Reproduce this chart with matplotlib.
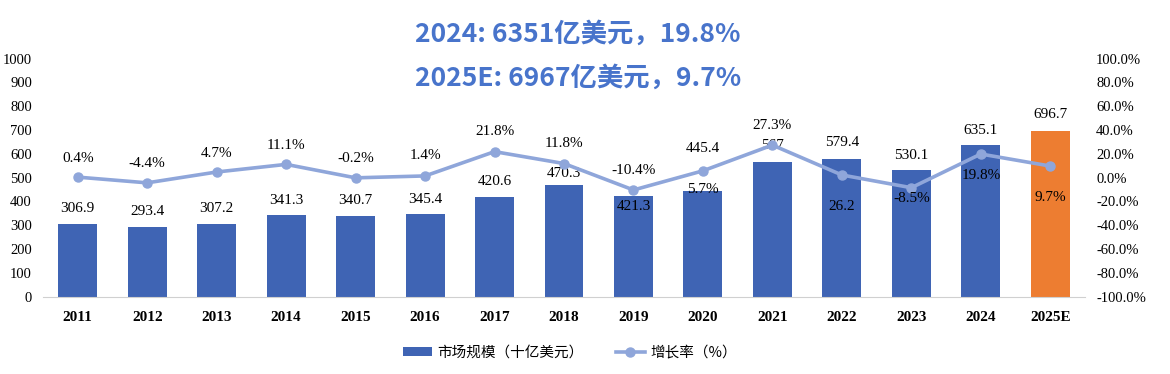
import matplotlib.pyplot as plt
import numpy as np

plt.rcParams["font.family"] = ["Liberation Serif", "DejaVu Serif"]

years = ["2011", "2012", "2013", "2014", "2015", "2016", "2017", "2018",
         "2019", "2020", "2021", "2022", "2023", "2024", "2025E"]
market_size = [306.9, 293.4, 307.2, 341.3, 340.7, 345.4, 420.6, 470.3,
               421.3, 445.4, 567, 579.4, 530.1, 635.1, 696.7]
bar_labels = ["306.9", "293.4", "307.2", "341.3", "340.7", "345.4", "420.6", "470.3",
              "421.3", "445.4", "567", "579.4", "530.1", "635.1", "696.7"]
growth = [0.4, -4.4, 4.7, 11.1, -0.2, 1.4, 21.8, 11.8,
          -10.4, 5.7, 27.3, 2.2, -8.5, 19.8, 9.7]
growth_labels = ["0.4%", "-4.4%", "4.7%", "11.1%", "-0.2%", "1.4%", "21.8%", "11.8%",
                 "-10.4%", "5.7%", "27.3%", "26.2", "-8.5%", "19.8%", "9.7%"]

# label offsets in pixels (copied from how the original labels sit)
bar_label_dy = [15, 15, 15, 15, 15, 15, 15, 11, -10, 42, 16, 16, 15, 15, 16]
growth_label_dy = [19, 19, 19, 19, 19, 20, 20, 20, 19, -19, 20, -32, -11, -21, -31]

BLUE = "#3F64B4"
ORANGE = "#ED7D31"
LINE = "#8FA6DA"
TITLE = "#4874CB"
CJK = ["Noto Sans CJK SC", "DejaVu Sans"]

fig = plt.figure(figsize=(11.7, 3.74), dpi=100)
ax = fig.add_axes([43 / 1170, 1 - 296.7 / 374, (1085 - 43) / 1170, (296.7 - 58.5) / 374])

x = np.arange(len(years))
colors = [BLUE] * (len(years) - 1) + [ORANGE]
bars = ax.bar(x, market_size, width=0.56, color=colors, zorder=2)

ax.set_xlim(-0.5, len(years) - 0.5)
ax.set_ylim(0, 1000)
ax.set_yticks(range(0, 1001, 100))
ax.set_xticks(x)
ax.set_xticklabels(years, fontweight="bold", fontsize=11)
ax.tick_params(axis="x", length=0, pad=10)
ax.tick_params(axis="y", length=0, labelsize=10.5, pad=8)
for side in ["top", "right", "left"]:
    ax.spines[side].set_visible(False)
ax.spines["bottom"].set_color("#D0D0D0")

for xi, h, txt, dy in zip(x, market_size, bar_labels, bar_label_dy):
    ax.annotate(txt, (xi, h), xytext=(0, dy), textcoords="offset pixels",
                ha="center", va="center", fontsize=11, zorder=5)

ax2 = ax.twinx()
ax2.set_ylim(-100, 100)
ax2.set_yticks(range(-100, 101, 20))
ax2.set_yticklabels([f"{v:.1f}%" for v in range(-100, 101, 20)])
ax2.tick_params(axis="y", length=0, labelsize=10.5, pad=8)
for side in ["top", "right", "left", "bottom"]:
    ax2.spines[side].set_visible(False)

ax2.plot(x, growth, color=LINE, linewidth=2.6, marker="o", markersize=6.5, zorder=3)
for xi, g, txt, dy in zip(x, growth, growth_labels, growth_label_dy):
    ax2.annotate(txt, (xi, g), xytext=(0, dy), textcoords="offset pixels",
                 ha="center", va="center", fontsize=11, zorder=5)

fig.text(578 / 1170, 1 - 34 / 374, "2024: 6351亿美元，19.8%", family=CJK,
         fontweight="bold", fontsize=19, color=TITLE, ha="center", va="center")
fig.text(578 / 1170, 1 - 78 / 374, "2025E: 6967亿美元，9.7%", family=CJK,
         fontweight="bold", fontsize=19, color=TITLE, ha="center", va="center")

handles = [bars, ax2.lines[0]]
leg = fig.legend(handles, ["市场规模（十亿美元）", "增长率（%）"],
                 loc="center", bbox_to_anchor=(570 / 1170, 1 - 353 / 374),
                 ncol=2, frameon=False, prop={"family": CJK, "size": 10.5},
                 handlelength=2.0, handleheight=0.6, columnspacing=2.2,
                 handletextpad=0.4)

fig.savefig("out.png", dpi=100)
